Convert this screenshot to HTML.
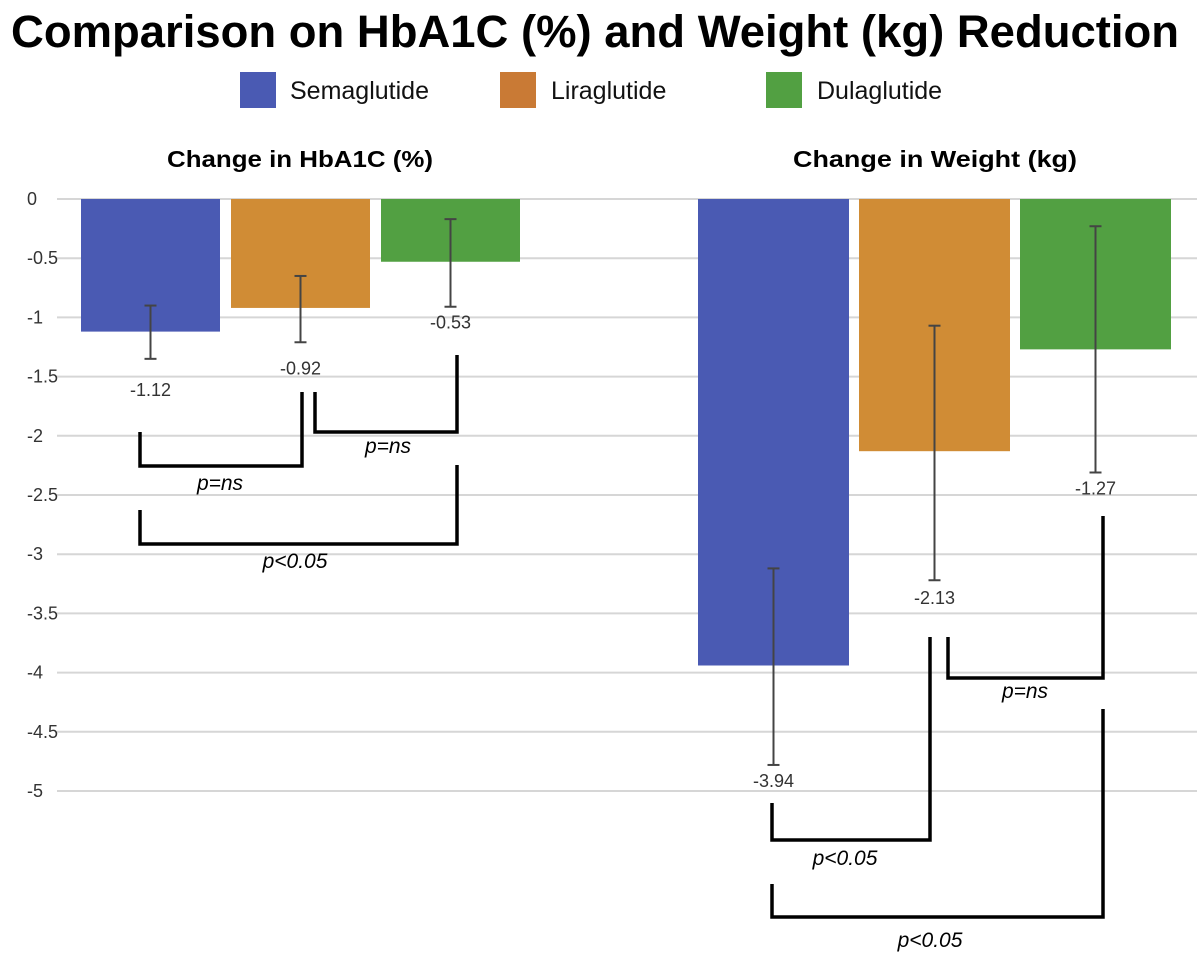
<!DOCTYPE html>
<html><head><meta charset="utf-8"><style>
body{margin:0;background:#fff;width:1200px;height:955px;overflow:hidden}
svg{display:block;font-family:"Liberation Sans","DejaVu Sans",sans-serif}
</style></head><body>
<svg id="c" width="1200" height="955">
<text x="595" y="47" text-anchor="middle" font-size="45" font-weight="bold" fill="#000" textLength="1168" lengthAdjust="spacingAndGlyphs">Comparison on HbA1C (%) and Weight (kg) Reduction</text>
<g>
<rect x="240" y="72" width="36" height="36" fill="#4a5ab3"/>
<text x="290" y="99" font-size="25" fill="#111">Semaglutide</text>
<rect x="500" y="72" width="36" height="36" fill="#c97a35"/>
<text x="551" y="99" font-size="25" fill="#111">Liraglutide</text>
<rect x="766" y="72" width="36" height="36" fill="#52a042"/>
<text x="817" y="99" font-size="25" fill="#111">Dulaglutide</text>
</g>
<text x="300" y="167" text-anchor="middle" font-size="23" font-weight="bold" textLength="266" lengthAdjust="spacingAndGlyphs">Change in HbA1C (%)</text>
<text x="935" y="167" text-anchor="middle" font-size="23" font-weight="bold" textLength="284" lengthAdjust="spacingAndGlyphs">Change in Weight (kg)</text>
<g id="grid"></g><g id="bars"></g><g id="brackets"></g>
</svg>
<script>
const ticks = [0,-0.5,-1,-1.5,-2,-2.5,-3,-3.5,-4,-4.5,-5];
const tickLabels = ["0","-0.5","-1","-1.5","-2","-2.5","-3","-3.5","-4","-4.5","-5"];
const drugs = ["Semaglutide","Liraglutide","Dulaglutide"];
const hba1cValues = [-1.12,-0.92,-0.53];
const hba1cErrTop = [-0.90,-0.65,-0.17];
const hba1cErrBottom = [-1.35,-1.21,-0.91];
const weightValues = [-3.94,-2.13,-1.27];
const weightErrTop = [-3.12,-1.07,-0.23];
const weightErrBottom = [-4.78,-3.22,-2.31];
const colors = ["#4a5ab3","#d08c35","#52a042"];
const hba1cLabelGap = [37,32,22];
const weightLabelGap = [22,24,22];
const NS="http://www.w3.org/2000/svg";
function Y(v){return 199 - v*118.4;}
function mk(tag,attrs,parent){const e=document.createElementNS(NS,tag);for(const k in attrs)e.setAttribute(k,attrs[k]);parent.appendChild(e);return e;}
const grid=document.getElementById('grid');
ticks.forEach((t,i)=>{
  const l=mk('line',{x1:57,x2:1197,y1:Y(t),y2:Y(t),stroke:'#d6d6d6','stroke-width':2},grid);
  
  
  const tx=mk('text',{x:27,y:Y(t)+6,'font-size':18,fill:'#333'},grid);
  tx.textContent=tickLabels[i];
  
  
});
const bars=document.getElementById('bars');
function panel(vals,tops,bots,gaps,x0,w,gap,key){
  vals.forEach((v,i)=>{
    const x=x0+i*(w+gap);
    const r=mk('rect',{x:x,y:Y(0),width:w,height:Y(v)-Y(0),fill:colors[i]},bars);
    
    
    const cx=x+w/2;
    const g=mk('g',{stroke:'#444','stroke-width':2},bars);
    
    
    mk('line',{x1:cx,x2:cx,y1:Y(tops[i]),y2:Y(bots[i])},g);
    mk('line',{x1:cx-6,x2:cx+6,y1:Y(tops[i]),y2:Y(tops[i])},g);
    mk('line',{x1:cx-6,x2:cx+6,y1:Y(bots[i]),y2:Y(bots[i])},g);
    const t=mk('text',{x:cx,y:Y(bots[i])+gaps[i],'text-anchor':'middle','font-size':18,fill:'#333'},bars);
    t.textContent=v.toFixed(2);
    
    
  });
}
panel(hba1cValues,hba1cErrTop,hba1cErrBottom,hba1cLabelGap,81,139,11,'hba1c');
panel(weightValues,weightErrTop,weightErrBottom,weightLabelGap,698,151,10,'weight');
const br=document.getElementById('brackets');
function bracket(x1,y1,x2,y2,yb,label,lx,ly){
  const p=mk('path',{d:`M${x1},${y1} V${yb} H${x2} V${y2}`,fill:'none',stroke:'#000','stroke-width':3.5},br);
  
  
  const t=mk('text',{x:lx,y:ly,'text-anchor':'middle','font-size':21,'font-style':'italic',fill:'#000'},br);
  t.textContent=label;
  
  
}
bracket(140,432,302,392,466,'p=ns',220,490);
bracket(315,392,457,355,432,'p=ns',388,453);
bracket(140,510,457,465,544,'p<0.05',295,568);
bracket(772,803,930,637,840,'p<0.05',845,865);
bracket(948,637,1103,516,678,'p=ns',1025,698);
bracket(772,884,1103,709,917,'p<0.05',930,947);
</script>
</body></html>
